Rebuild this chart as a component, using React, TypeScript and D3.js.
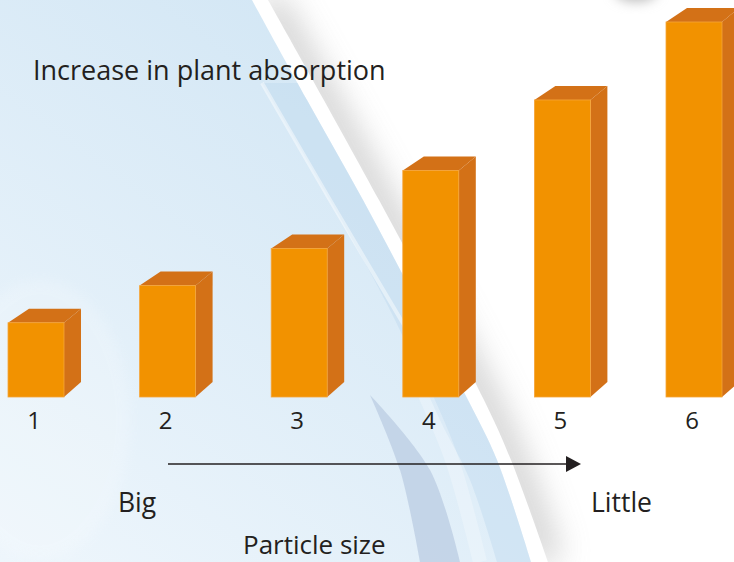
import React, { useEffect, useRef } from 'react';
import * as d3 from 'd3';

// relative absorption for each particle size class
const categories = ['1', '2', '3', '4', '5', '6'];
const absorption = [1, 1.5, 2, 3.05, 4, 5.05];
const titleText = 'Increase in plant absorption';
const axisStart = 'Big';
const axisEnd = 'Little';
const axisTitle = 'Particle size';

const W = 734;
const H = 562;
const FONT = '"Open Sans", "Noto Sans", sans-serif';

const App: React.FC = () => {
  const svgRef = useRef<SVGSVGElement>(null);

  useEffect(() => {
    if (!svgRef.current) return;
    const svg = d3.select(svgRef.current);
    svg.selectAll('*').remove();
    svg.attr('width', W).attr('height', H);

    const defs = svg.append('defs');

    // background blue gradient
    const bg = defs.append('linearGradient').attr('id', 'bgBlue')
      .attr('gradientUnits', 'userSpaceOnUse')
      .attr('x1', 0).attr('y1', H).attr('x2', 420).attr('y2', 0);
    bg.append('stop').attr('offset', '0%').attr('stop-color', '#eef6fc');
    bg.append('stop').attr('offset', '100%').attr('stop-color', '#d0e5f4');

    defs.append('filter').attr('id', 'blur').attr('x', '-50%').attr('y', '-50%')
      .attr('width', '200%').attr('height', '200%')
      .append('feGaussianBlur').attr('stdDeviation', 16);
    defs.append('filter').attr('id', 'blurSmall').attr('x', '-50%').attr('y', '-50%')
      .attr('width', '200%').attr('height', '200%')
      .append('feGaussianBlur').attr('stdDeviation', 6);

    const curve = d3.line().curve(d3.curveCatmullRom);
    const leftEdge: [number, number][] = [[252, 0], [307, 100], [363, 200], [416, 300], [468, 400], [497, 460], [531, 562]];
    const rightEdge: [number, number][] = [[268, 0], [379, 200], [484, 400], [511, 460], [548, 562]];
    const blueArea = `M0,${H} L0,0 ` + curve(leftEdge)!.replace(/^M/, 'L') + ' Z';

    // white base
    svg.append('rect').attr('width', W).attr('height', H).attr('fill', '#ffffff');

    // shadow right of the white strip
    const rightClip = defs.append('clipPath').attr('id', 'rightClip');
    rightClip.append('path').attr('d', curve(rightEdge) + ` L${W},${H} L${W},0 Z`);
    svg.append('path')
      .attr('d', curve(rightEdge))
      .attr('fill', 'none').attr('stroke', '#bebebe').attr('stroke-width', 26)
      .attr('opacity', 0.8)
      .attr('filter', 'url(#blur)')
      .attr('clip-path', 'url(#rightClip)');

    // blue area
    svg.append('path').attr('d', blueArea).attr('fill', 'url(#bgBlue)');

    const blueClip = defs.append('clipPath').attr('id', 'blueClip');
    blueClip.append('path').attr('d', blueArea);
    const deco = svg.append('g').attr('clip-path', 'url(#blueClip)');

    // darker band along the strip
    deco.append('path')
      .attr('d', curve([[262, 83], [330, 200], [395, 320], [440, 420], [470, 480], [497, 562]])!
        + ' L640,562 L400,0 L300,83 Z')
      .attr('fill', '#bcd7ed').attr('opacity', 0.4);
    // light thin streak
    deco.append('path')
      .attr('d', curve([[262, 83], [330, 200], [407, 330]]))
      .attr('fill', 'none').attr('stroke', '#ffffff').attr('stroke-width', 4).attr('opacity', 0.45);
    deco.append('path')
      .attr('d', curve([[425, 395], [452, 460], [480, 562]]))
      .attr('fill', 'none').attr('stroke', '#ffffff').attr('stroke-width', 14).attr('opacity', 0.25);
    // grey-blue spike
    deco.append('path')
      .attr('d', 'M370,395 ' + curve([[370, 395], [400, 470], [420, 562]])!.replace(/^M[^C]+/, '')
        + ' L460,562 ' + curve([[460, 562], [430, 470], [370, 395]])!.replace(/^M[^C]+/, '') + ' Z')
      .attr('fill', '#c1d1e5').attr('opacity', 0.9);
    // subtle light swirl lower left
    deco.append('ellipse')
      .attr('cx', 40).attr('cy', 420).attr('rx', 90).attr('ry', 140)
      .attr('fill', '#ffffff').attr('opacity', 0.18).attr('filter', 'url(#blurSmall)');

    // grey blob top right
    svg.append('ellipse')
      .attr('cx', 636).attr('cy', -10).attr('rx', 22).attr('ry', 12)
      .attr('fill', '#bdbdbd').attr('filter', 'url(#blurSmall)');

    // scales
    const x = d3.scaleBand<string>()
      .domain(categories)
      .range([8, 722])
      .paddingInner(0.5745)
      .paddingOuter(0);
    const base = 397;
    const y = d3.scaleLinear()
      .domain([0, d3.max(absorption) as number])
      .range([base, 22]);

    const dx = 17, dy = 14, dxBack = 21;
    const frontCol = '#f29200';
    const sideCol = '#d37117';

    const bars = svg.append('g').selectAll('g.bar')
      .data(categories.map((c, i) => ({ c, v: absorption[i] })))
      .enter().append('g').attr('class', 'bar');

    bars.append('path')
      .attr('d', d => {
        const x0 = x(d.c)!, x1 = x0 + x.bandwidth(), yt = y(d.v);
        return `M${x1},${yt} L${x1 + dx},${yt - dy} L${x1 + dx},${base - 15} L${x1},${base} Z`;
      })
      .attr('fill', sideCol);
    bars.append('path')
      .attr('d', d => {
        const x0 = x(d.c)!, x1 = x0 + x.bandwidth(), yt = y(d.v);
        return `M${x0},${yt} L${x0 + dxBack},${yt - dy} L${x1 + dx},${yt - dy} L${x1},${yt} Z`;
      })
      .attr('fill', sideCol);
    bars.append('rect')
      .attr('x', d => x(d.c)!)
      .attr('y', d => y(d.v))
      .attr('width', x.bandwidth())
      .attr('height', d => base - y(d.v))
      .attr('fill', frontCol)
      .attr('stroke', '#f6a53a').attr('stroke-width', 0.8);

    // category labels
    svg.append('g').selectAll('text')
      .data(categories)
      .enter().append('text')
      .attr('x', d => x(d)! + x.bandwidth() / 2 - 2)
      .attr('y', 429)
      .attr('text-anchor', 'middle')
      .attr('font-family', FONT)
      .attr('font-size', 24)
      .attr('fill', '#231f20')
      .text(d => d);

    // title
    svg.append('text')
      .attr('x', 33).attr('y', 80)
      .attr('font-family', FONT).attr('font-size', 27)
      .attr('fill', '#231f20')
      .text(titleText);

    // arrow
    svg.append('line')
      .attr('x1', 168).attr('x2', 568).attr('y1', 464).attr('y2', 464)
      .attr('stroke', '#231f20').attr('stroke-width', 1.5);
    svg.append('path')
      .attr('d', 'M566,456 L581,464 L566,472 Z')
      .attr('fill', '#231f20');

    svg.append('text')
      .attr('x', 118).attr('y', 512)
      .attr('font-family', FONT).attr('font-size', 26.5)
      .attr('fill', '#231f20').text(axisStart);
    svg.append('text')
      .attr('x', 591).attr('y', 512)
      .attr('font-family', FONT).attr('font-size', 26.5)
      .attr('fill', '#231f20').text(axisEnd);
    svg.append('text')
      .attr('x', 243).attr('y', 554)
      .attr('font-family', FONT).attr('font-size', 26)
      .attr('fill', '#231f20').text(axisTitle);
  }, []);

  return (
    <svg
      ref={svgRef}
      style={{ position: 'absolute', left: 0, top: 0, display: 'block' }}
    />
  );
};

export default App;
